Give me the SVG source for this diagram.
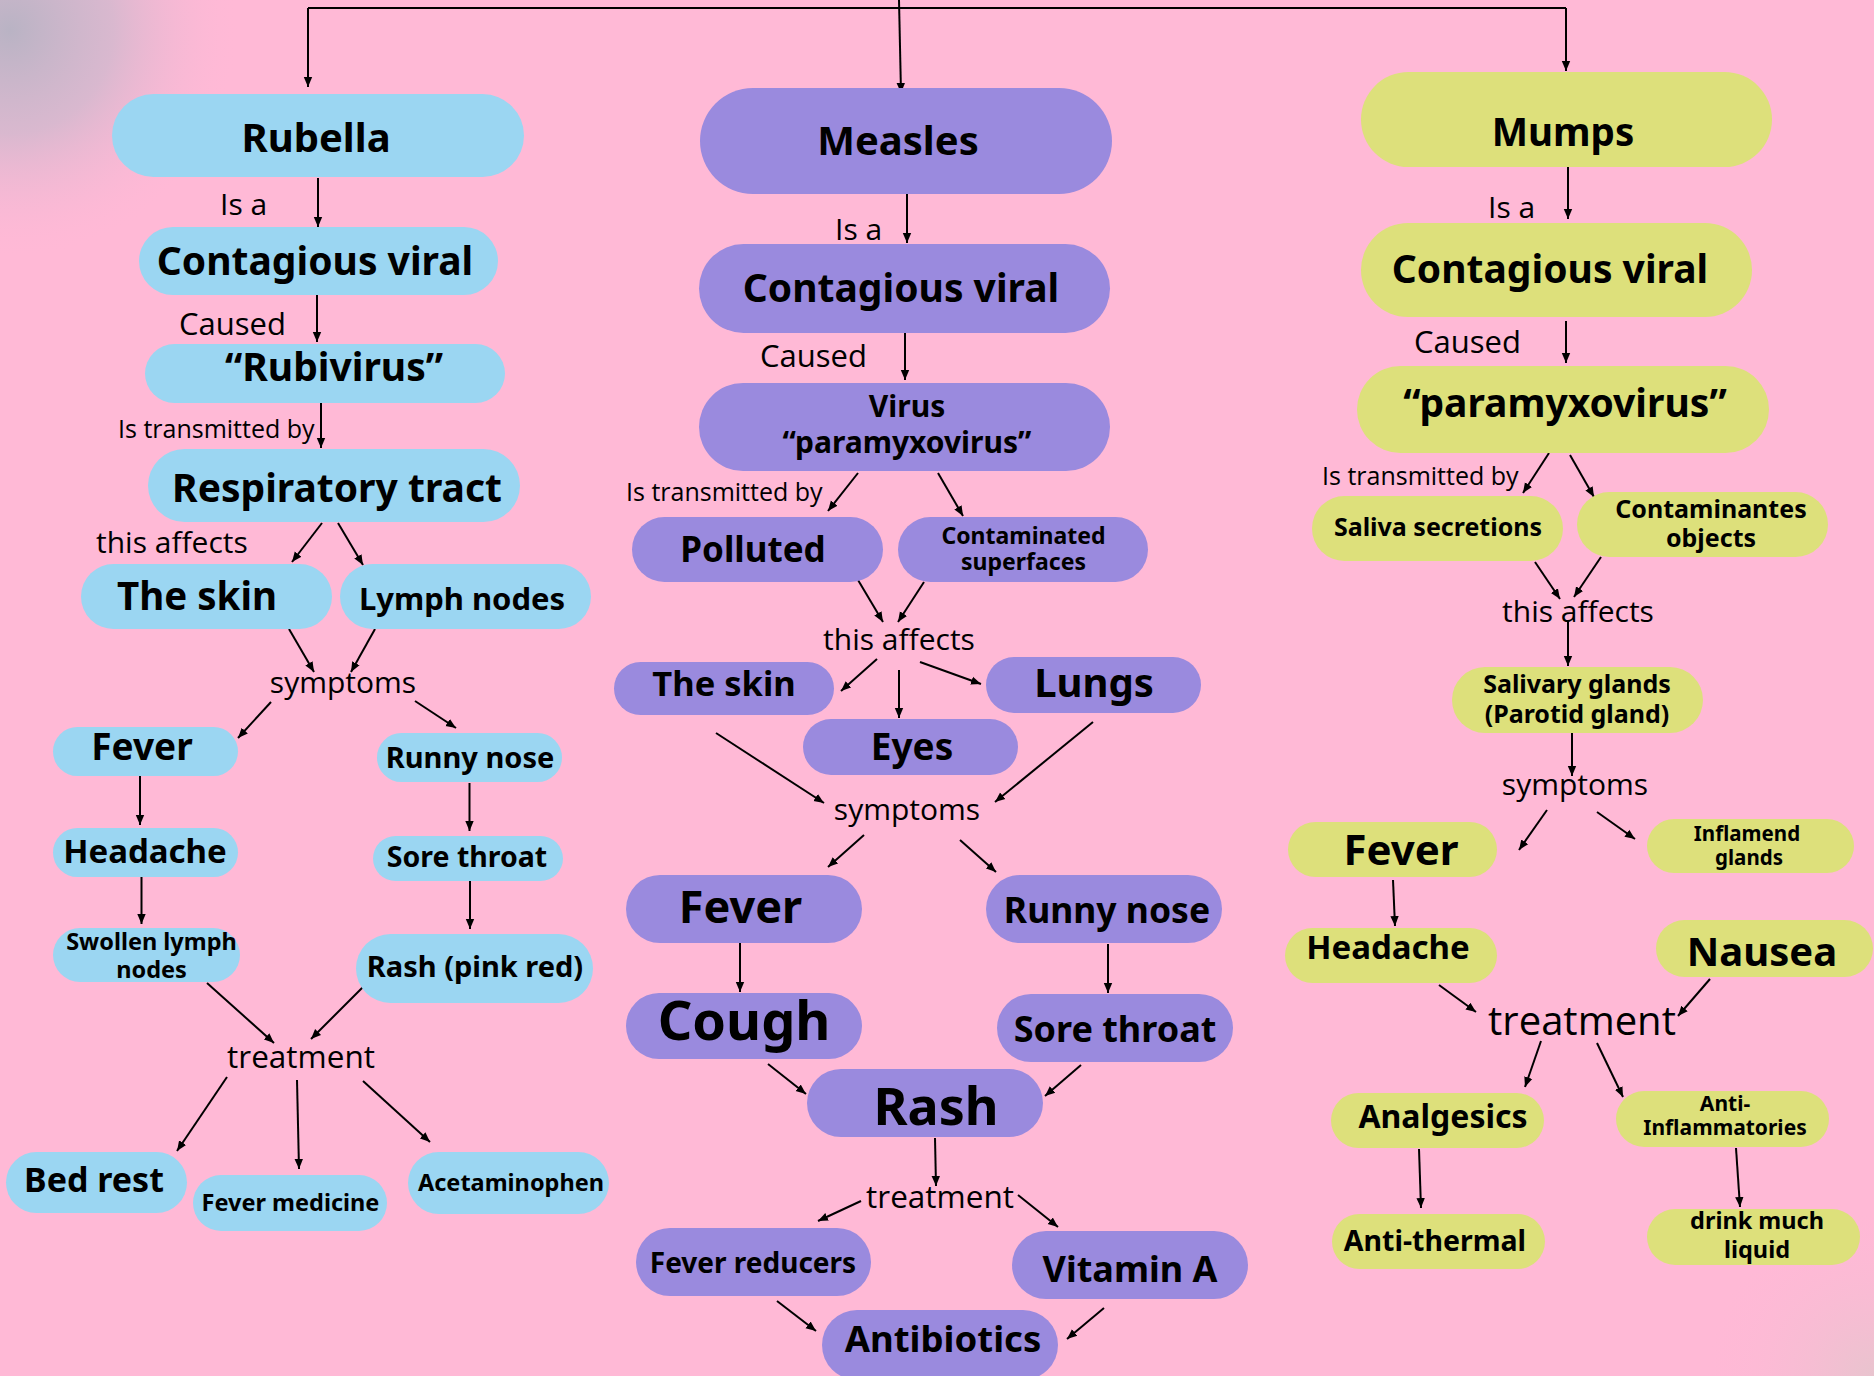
<svg xmlns="http://www.w3.org/2000/svg" width="1874" height="1376" viewBox="0 0 1874 1376">
<defs>
<radialGradient id="tl" cx="10" cy="30" r="230" gradientUnits="userSpaceOnUse">
<stop offset="0" stop-color="#B9B3C4" stop-opacity="1"/>
<stop offset="0.45" stop-color="#C9B8CC" stop-opacity="0.7"/>
<stop offset="1" stop-color="#FFB9D6" stop-opacity="0"/>
</radialGradient>
<radialGradient id="br" cx="1874" cy="1376" r="170" gradientUnits="userSpaceOnUse">
<stop offset="0" stop-color="#E8C4CE" stop-opacity="1"/>
<stop offset="1" stop-color="#FFB9D6" stop-opacity="0"/>
</radialGradient>
<marker id="ah" markerUnits="userSpaceOnUse" markerWidth="10" markerHeight="10" viewBox="0 0 10 10" refX="10" refY="5" orient="auto">
<path d="M0,0.8 L10,5 L0,9.2 z" fill="#000"/>
</marker>
</defs>
<style>
.bg{fill:#FFB9D6}
.b{fill:#9BD6F2}
.p{fill:#9A8ADE}
.y{fill:#DDE07B}
.t{font-family:"Noto Sans","DejaVu Sans",sans-serif;font-weight:700;fill:#000;text-anchor:middle}
.l{font-family:"Open Sans","Liberation Sans",sans-serif;font-weight:400;fill:#000}
.lc{text-anchor:middle}
#connectors path{fill:none;stroke:#000;stroke-width:2;marker-end:url(#ah)}
#connectors path.nm{marker-end:none}
</style>
<rect class="bg" x="0" y="0" width="1874" height="1376"/>
<rect x="0" y="0" width="1874" height="1376" fill="url(#tl)"/>
<rect x="0" y="0" width="1874" height="1376" fill="url(#br)"/>

<g id="connectors">
<path class="nm" d="M308,8 H1566"/>
<path d="M308,8 V87"/>
<path d="M899,0 L901,93"/>
<path d="M1566,8 V71"/>
<path d="M318,178 V227"/>
<path d="M317,293 V342"/>
<path d="M321,401 V448"/>
<path d="M322,523 L292,562"/>
<path d="M338,523 L363,565"/>
<path d="M289,629 L314,672"/>
<path d="M375,629 L351,672"/>
<path d="M271,702 L238,738"/>
<path d="M415,701 L456,728"/>
<path d="M140,776 V825"/>
<path d="M469.5,783 V831"/>
<path d="M141.5,877 V924"/>
<path d="M470,881 V929"/>
<path d="M207,983 L274,1043"/>
<path d="M363,987 L311,1039"/>
<path d="M227,1077 L177,1151"/>
<path d="M297,1080 L299,1169"/>
<path d="M363,1081 L430,1142"/>
<path d="M907,194 V243"/>
<path d="M905,332 V380"/>
<path d="M858,473 L828,511"/>
<path d="M938,473 L963,516"/>
<path d="M858,580 L883,622"/>
<path d="M924,582 L898,622"/>
<path d="M877,659 L841,691"/>
<path d="M899,670 V718"/>
<path d="M920,662 L981,684"/>
<path d="M716,733 L824,803"/>
<path d="M1093,722 L995,802"/>
<path d="M864,835 L828,867"/>
<path d="M960,840 L996,872"/>
<path d="M740,943 V992"/>
<path d="M1108,944 V993"/>
<path d="M768,1064 L806,1094"/>
<path d="M1081,1065 L1045,1096"/>
<path d="M935,1138 L936,1186"/>
<path d="M861,1201 L818,1221"/>
<path d="M1018,1195 L1058,1227"/>
<path d="M777,1301 L816,1331"/>
<path d="M1104,1308 L1067,1339"/>
<path d="M1568,165 V219"/>
<path d="M1566,321 V363"/>
<path d="M1549,453 L1523,493"/>
<path d="M1570,455 L1594,497"/>
<path d="M1535,562 L1560,599"/>
<path d="M1601,557 L1574,597"/>
<path d="M1568,622 V666"/>
<path d="M1572,733 V776"/>
<path d="M1547,810 L1519,850"/>
<path d="M1597,812 L1635,839"/>
<path d="M1393,880 L1395,926"/>
<path d="M1439,985 L1476,1012"/>
<path d="M1710,979 L1678,1016"/>
<path d="M1541,1041 L1525,1087"/>
<path d="M1597,1043 L1623,1097"/>
<path d="M1419,1149 L1421,1208"/>
<path d="M1736,1148 L1740,1207"/>
</g>

<g id="labels">
<text class="l" x="220" y="215" font-size="30">Is a</text>
<text class="l" x="179" y="335" font-size="31">Caused</text>
<text class="l" x="118" y="438" font-size="25">Is transmitted by</text>
<text class="l" x="96" y="553" font-size="30">this affects</text>
<text class="l lc" x="343" y="693" font-size="30">symptoms</text>
<text class="l lc" x="301" y="1068" font-size="31.5">treatment</text>

<text class="l" x="835" y="240" font-size="30">Is a</text>
<text class="l" x="760" y="367" font-size="31">Caused</text>
<text class="l" x="626" y="501" font-size="25">Is transmitted by</text>
<text class="l lc" x="899" y="650" font-size="30">this affects</text>
<text class="l lc" x="907" y="820" font-size="30">symptoms</text>
<text class="l lc" x="940" y="1208" font-size="31.5">treatment</text>

<text class="l" x="1488" y="218" font-size="30">Is a</text>
<text class="l" x="1414" y="353" font-size="31">Caused</text>
<text class="l" x="1322" y="485" font-size="25">Is transmitted by</text>
<text class="l lc" x="1578" y="622" font-size="30">this affects</text>
<text class="l lc" x="1575" y="795" font-size="30">symptoms</text>
<text class="l lc" x="1582" y="1035" font-size="40">treatment</text>
</g>

<!-- Rubella column -->
<g id="rubella"><rect class="b" x="112" y="94" width="412" height="83" rx="41.5"/><text class="t" x="316" y="152" font-size="40">Rubella</text></g>
<g id="contagious-r"><rect class="b" x="139" y="227" width="359" height="68" rx="34"/><text class="t" x="315" y="275" font-size="39">Contagious viral</text></g>
<g id="rubivirus"><rect class="b" x="145" y="344" width="360" height="59" rx="29.5"/><text class="t" x="334" y="381" font-size="39">“Rubivirus”</text></g>
<g id="respiratory"><rect class="b" x="148" y="449" width="372" height="73" rx="36.5"/><text class="t" x="337" y="502" font-size="39">Respiratory tract</text></g>
<g id="skin-r"><rect class="b" x="81" y="564" width="251" height="65" rx="32.5"/><text class="t" x="197" y="610" font-size="38.5">The skin</text></g>
<g id="lymph"><rect class="b" x="340" y="564" width="251" height="65" rx="32.5"/><text class="t" x="462" y="610" font-size="31">Lymph nodes</text></g>
<g id="fever-r"><rect class="b" x="53" y="727" width="185" height="49" rx="24.5"/><text class="t" x="142" y="760" font-size="37">Fever</text></g>
<g id="runny-r"><rect class="b" x="377" y="733" width="185" height="49" rx="24.5"/><text class="t" x="470" y="768" font-size="29">Runny nose</text></g>
<g id="headache-r"><rect class="b" x="53" y="828" width="185" height="49" rx="24.5"/><text class="t" x="145" y="863" font-size="33">Headache</text></g>
<g id="sore-r"><rect class="b" x="373" y="836" width="190" height="45" rx="22.5"/><text class="t" x="467" y="867" font-size="28.5">Sore throat</text></g>
<g id="swollen"><rect class="b" x="53" y="928" width="187" height="54" rx="27"/><text class="t" x="151.5" y="950" font-size="23.5">Swollen lymph</text><text class="t" x="151.5" y="978" font-size="23.5">nodes</text></g>
<g id="rash-r"><rect class="b" x="356" y="934" width="237" height="69" rx="34.5"/><text class="t" x="475" y="977" font-size="29">Rash (pink red)</text></g>
<g id="bedrest"><rect class="b" x="6" y="1152" width="181" height="61" rx="30.5"/><text class="t" x="94" y="1192" font-size="34">Bed rest</text></g>
<g id="fevermed"><rect class="b" x="193" y="1175" width="194" height="56" rx="28"/><text class="t" x="290.5" y="1211" font-size="23.5">Fever medicine</text></g>
<g id="acetaminophen"><rect class="b" x="408" y="1152" width="201" height="62" rx="31"/><text class="t" x="511" y="1191" font-size="23.5">Acetaminophen</text></g>

<!-- Measles column -->
<g id="measles"><rect class="p" x="700" y="88" width="412" height="106" rx="53"/><text class="t" x="898" y="155" font-size="40">Measles</text></g>
<g id="contagious-m"><rect class="p" x="699" y="244" width="411" height="89" rx="44.5"/><text class="t" x="901" y="302" font-size="39">Contagious viral</text></g>
<g id="virus-m"><rect class="p" x="699" y="383" width="411" height="88" rx="44"/><text class="t" x="907" y="417" font-size="30">Virus</text><text class="t" x="907" y="453" font-size="30">“paramyxovirus”</text></g>
<g id="polluted"><rect class="p" x="632" y="517" width="251" height="65" rx="32.5"/><text class="t" x="753" y="562" font-size="35">Polluted</text></g>
<g id="contaminated"><rect class="p" x="898" y="517" width="250" height="65" rx="32.5"/><text class="t" x="1023.5" y="544" font-size="23">Contaminated</text><text class="t" x="1023.5" y="570" font-size="23">superfaces</text></g>
<g id="skin-m"><rect class="p" x="614" y="662" width="220" height="53" rx="26.5"/><text class="t" x="724" y="696" font-size="34.5">The skin</text></g>
<g id="lungs"><rect class="p" x="986" y="657" width="215" height="56" rx="28"/><text class="t" x="1094" y="697" font-size="40">Lungs</text></g>
<g id="eyes"><rect class="p" x="803" y="719" width="215" height="56" rx="28"/><text class="t" x="912" y="760" font-size="37">Eyes</text></g>
<g id="fever-m"><rect class="p" x="626" y="875" width="236" height="68" rx="34"/><text class="t" x="740.5" y="923" font-size="45">Fever</text></g>
<g id="runny-m"><rect class="p" x="986" y="875" width="236" height="68" rx="34"/><text class="t" x="1107" y="923" font-size="35.5">Runny nose</text></g>
<g id="cough"><rect class="p" x="626" y="993" width="236" height="66" rx="33"/><text class="t" x="744" y="1040" font-size="54">Cough</text></g>
<g id="sore-m"><rect class="p" x="997" y="994" width="236" height="68" rx="34"/><text class="t" x="1115" y="1042" font-size="36">Sore throat</text></g>
<g id="rash-m"><rect class="p" x="807" y="1069" width="236" height="68" rx="34"/><text class="t" x="936" y="1125" font-size="52">Rash</text></g>
<g id="feverreducers"><rect class="p" x="636" y="1228" width="235" height="68" rx="34"/><text class="t" x="753" y="1273" font-size="28">Fever reducers</text></g>
<g id="vitamina"><rect class="p" x="1012" y="1231" width="236" height="68" rx="34"/><text class="t" x="1130" y="1282" font-size="36">Vitamin A</text></g>
<g id="antibiotics"><rect class="p" x="822" y="1310" width="236" height="70" rx="35"/><text class="t" x="943" y="1352" font-size="36.5">Antibiotics</text></g>

<!-- Mumps column -->
<g id="mumps"><rect class="y" x="1361" y="72" width="411" height="95" rx="47.5"/><text class="t" x="1563" y="146" font-size="38.5">Mumps</text></g>
<g id="contagious-p"><rect class="y" x="1361" y="223" width="391" height="94" rx="47"/><text class="t" x="1550" y="283" font-size="39">Contagious viral</text></g>
<g id="paramyxo-p"><rect class="y" x="1357" y="366" width="412" height="87" rx="43.5"/><text class="t" x="1565" y="417" font-size="39">“paramyxovirus”</text></g>
<g id="saliva"><rect class="y" x="1312" y="496" width="251" height="65" rx="32.5"/><text class="t" x="1438" y="536" font-size="25">Saliva secretions</text></g>
<g id="contaminantes"><rect class="y" x="1577" y="492" width="251" height="65" rx="32.5"/><text class="t" x="1711" y="518" font-size="25">Contaminantes</text><text class="t" x="1711" y="547" font-size="25">objects</text></g>
<g id="salivary"><rect class="y" x="1452" y="667" width="251" height="66" rx="33"/><text class="t" x="1577" y="693" font-size="25">Salivary glands</text><text class="t" x="1577" y="723" font-size="25">(Parotid gland)</text></g>
<g id="fever-p"><rect class="y" x="1288" y="822" width="209" height="55" rx="27.5"/><text class="t" x="1401" y="865" font-size="42">Fever</text></g>
<g id="inflamend"><rect class="y" x="1647" y="819" width="207" height="54" rx="27"/><text class="t" x="1747" y="841" font-size="20.5">Inflamend</text><text class="t" x="1749" y="865" font-size="20.5">glands</text></g>
<g id="headache-p"><rect class="y" x="1285" y="928" width="212" height="55" rx="27.5"/><text class="t" x="1388" y="959" font-size="33">Headache</text></g>
<g id="nausea"><rect class="y" x="1656" y="920" width="217" height="57" rx="28.5"/><text class="t" x="1762" y="966" font-size="40">Nausea</text></g>
<g id="analgesics"><rect class="y" x="1331" y="1093" width="213" height="55" rx="27.5"/><text class="t" x="1443" y="1128" font-size="32">Analgesics</text></g>
<g id="antiinflam"><rect class="y" x="1616" y="1091" width="213" height="56" rx="28"/><text class="t" x="1725" y="1111" font-size="21">Anti-</text><text class="t" x="1725" y="1135" font-size="21">Inflammatories</text></g>
<g id="antithermal"><rect class="y" x="1332" y="1214" width="213" height="55" rx="27.5"/><text class="t" x="1435" y="1251" font-size="28.5">Anti-thermal</text></g>
<g id="drink"><rect class="y" x="1647" y="1209" width="213" height="56" rx="28"/><text class="t" x="1757" y="1229" font-size="23.5">drink much</text><text class="t" x="1757" y="1258" font-size="23.5">liquid</text></g>
</svg>
